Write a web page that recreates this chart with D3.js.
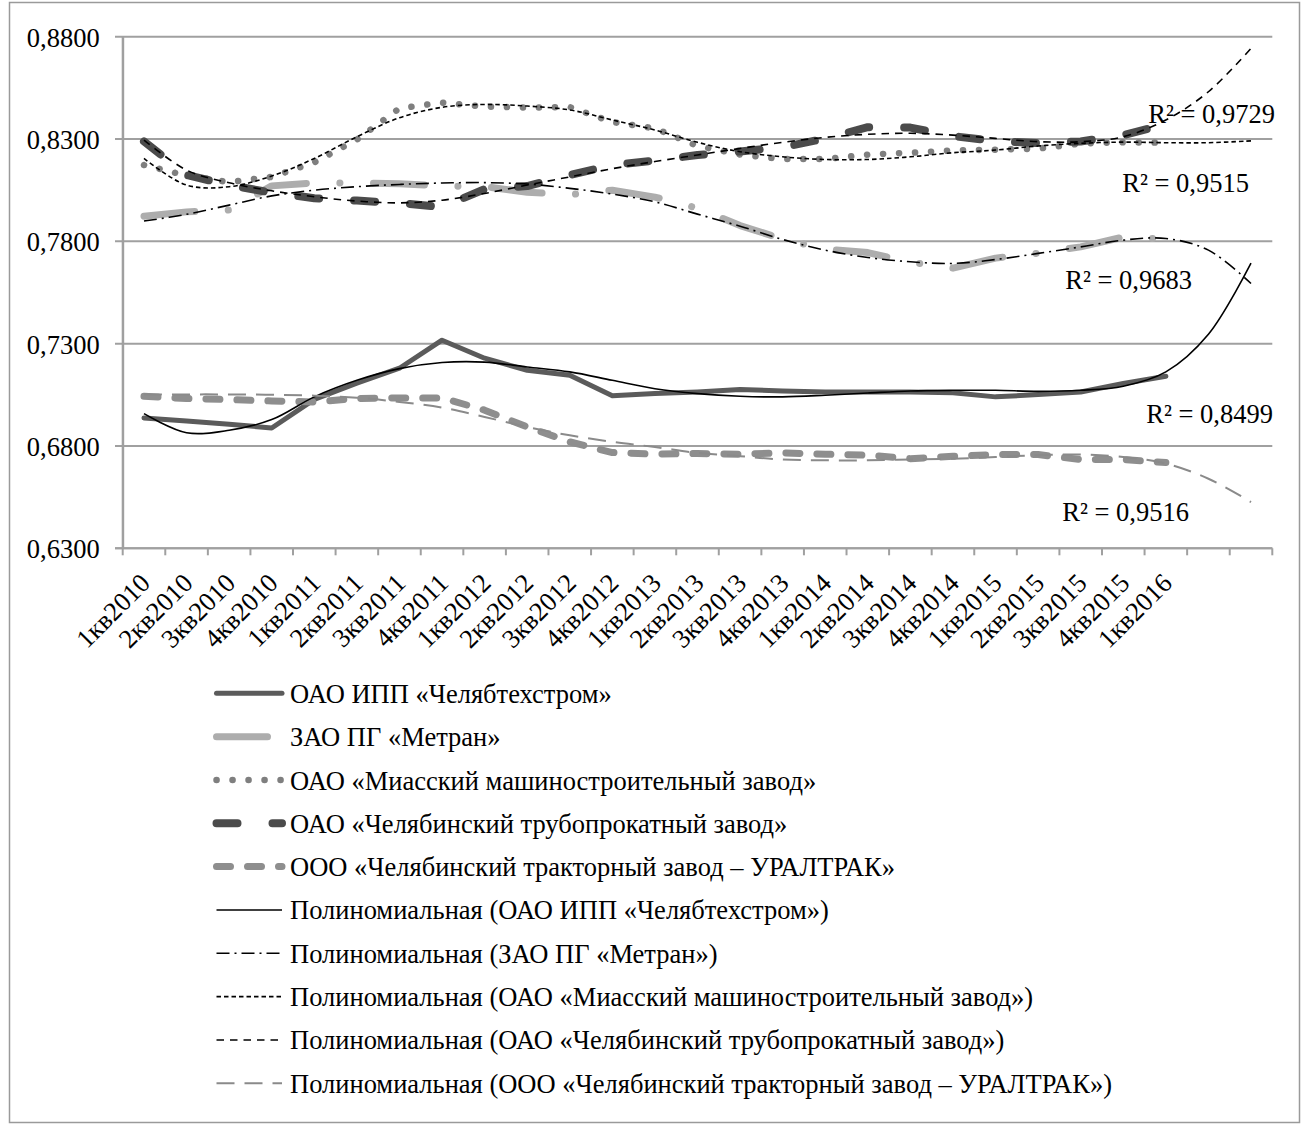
<!DOCTYPE html>
<html><head><meta charset="utf-8">
<script src="https://cdn.jsdelivr.net/npm/d3@7"></script>
<style>
html,body{margin:0;padding:0;background:#fff;}
svg{display:block;}
text{font-family:"Liberation Serif","Times New Roman",serif;fill:#000;}
</style></head>
<body>
<svg id="chart" width="1306" height="1126"></svg>
<script>
// ---------------- DATA ----------------
const categories = ["1кв2010","2кв2010","3кв2010","4кв2010","1кв2011","2кв2011","3кв2011","4кв2011",
  "1кв2012","2кв2012","3кв2012","4кв2012","1кв2013","2кв2013","3кв2013","4кв2013",
  "1кв2014","2кв2014","3кв2014","4кв2014","1кв2015","2кв2015","3кв2015","4кв2015","1кв2016"];
const forecastSlots = ["", ""]; // two forecast periods of the trend lines
const yTicks = [0.63, 0.68, 0.73, 0.78, 0.83, 0.88];

const ipp    = [0.6937,0.6922,0.6906,0.6888,0.7028,0.7107,0.7180,0.7317,0.7229,0.7170,0.7146,0.7045,0.7056,0.7064,0.7076,0.7069,0.7064,0.7064,0.7064,0.7060,0.7040,0.7051,0.7064,0.7105,0.7141];
const metran = [0.7923,0.7944,0.7953,0.8071,0.8086,0.8085,0.8082,0.8070,0.8068,0.8040,0.8028,0.8050,0.8016,0.7962,0.7877,0.7811,0.7762,0.7745,0.7698,0.7669,0.7718,0.7742,0.7773,0.7821,0.7810];
const miass  = [0.8173,0.8121,0.8089,0.8115,0.8186,0.8297,0.8450,0.8478,0.8458,0.8454,0.8456,0.8383,0.8352,0.8266,0.8224,0.8202,0.8202,0.8224,0.8233,0.8244,0.8248,0.8253,0.8278,0.8284,0.8282];
const chtpz  = [0.8288,0.8124,0.8075,0.8038,0.8011,0.7999,0.7987,0.7967,0.8055,0.8070,0.8124,0.8173,0.8195,0.8222,0.8239,0.8260,0.8302,0.8358,0.8356,0.8314,0.8290,0.8280,0.8288,0.8319,0.8373];
const ural   = [0.7043,0.7032,0.7027,0.7020,0.7015,0.7032,0.7035,0.7035,0.6975,0.6893,0.6820,0.6768,0.6760,0.6763,0.6760,0.6766,0.6760,0.6755,0.6738,0.6750,0.6758,0.6758,0.6734,0.6734,0.6719];

const ippTrend    = [0.6958,0.6865,0.6877,0.6929,0.7040,0.7121,0.7178,0.7208,0.7210,0.7186,0.7162,0.7121,0.7080,0.7056,0.7043,0.7040,0.7048,0.7059,0.7069,0.7072,0.7072,0.7067,0.7072,0.7092,0.7162,0.7346,0.7693];
const metranTrend = [0.7899,0.7932,0.7977,0.8022,0.8050,0.8067,0.8078,0.8085,0.8087,0.8080,0.8059,0.8031,0.7993,0.7933,0.7874,0.7809,0.7757,0.7721,0.7700,0.7692,0.7711,0.7741,0.7773,0.7806,0.7814,0.7757,0.7594];
const miassTrend  = [0.8205,0.8075,0.8067,0.8119,0.8205,0.8311,0.8404,0.8455,0.8469,0.8461,0.8442,0.8393,0.8344,0.8284,0.8238,0.8213,0.8200,0.8200,0.8213,0.8233,0.8246,0.8266,0.8279,0.8285,0.8282,0.8282,0.8291];
const chtpzTrend  = [0.8295,0.8148,0.8086,0.8047,0.8018,0.7997,0.7988,0.8001,0.8034,0.8075,0.8115,0.8155,0.8190,0.8222,0.8254,0.8284,0.8308,0.8323,0.8328,0.8319,0.8303,0.8287,0.8287,0.8311,0.8393,0.8531,0.8743];
const uralTrend   = [0.7051,0.7052,0.7052,0.7050,0.7046,0.7036,0.7015,0.6988,0.6942,0.6893,0.6852,0.6820,0.6795,0.6766,0.6750,0.6734,0.6730,0.6730,0.6734,0.6738,0.6746,0.6755,0.6758,0.6746,0.6714,0.6640,0.6526];

const seriesNames = ["ОАО ИПП «Челябтехстром»","ЗАО ПГ «Метран»","ОАО «Миасский машиностроительный завод»",
  "ОАО «Челябинский трубопрокатный завод»","ООО «Челябинский тракторный завод – УРАЛТРАК»"];
const r2Labels = ["R² = 0,9729","R² = 0,9515","R² = 0,9683","R² = 0,8499","R² = 0,9516"];

// ---------------- STYLES ----------------
const seriesStyles = [
  {color:"#5b5b5b", width:5,   dash:null,            cap:"round"},
  {color:"#adadad", width:7,   dash:"51 33.5 0.1 33.5", cap:"round"},
  {color:"#7f7f7f", width:6.5, dash:"0.1 15.9",      cap:"round"},
  {color:"#4b4b4b", width:8,   dash:"21 35",         cap:"round"},
  {color:"#8e8e8e", width:7,   dash:"14 17",         cap:"round"}
];
const trendStyles = [
  {color:"#000", width:1.6, dash:null},
  {color:"#000", width:1.6, dash:"13 5 2 5"},
  {color:"#000", width:1.6, dash:"4.5 3"},
  {color:"#000", width:1.6, dash:"7.5 6"},
  {color:"#8a8a8a", width:2, dash:"18 10"}
];
const r2Pos = [[1275,123],[1249,192],[1192,289],[1273,423],[1189,521]];

const svg = d3.select("#chart");
const FS = 26.5;

// outer border
svg.append("rect").attr("x",9.5).attr("y",2.5).attr("width",1290).attr("height",1120)
  .attr("fill","none").attr("stroke","#9a9a9a").attr("stroke-width",1.5);

const allCats = categories.concat(forecastSlots.map((d,i)=>"__f"+i));
const x = d3.scaleBand().domain(d3.range(allCats.length)).range([122.7, 1272.3]).padding(0);
const cx = i => x(i) + x.bandwidth()/2;
const y = d3.scaleLinear().domain([0.63, 0.88]).range([548.3, 36.7]);

// gridlines
svg.append("g").selectAll("line").data(yTicks).join("line")
  .attr("x1",115).attr("x2",1272.3).attr("y1",d=>y(d)).attr("y2",d=>y(d))
  .attr("stroke","#a0a0a0").attr("stroke-width",2);

// y axis
const yAxis = svg.append("g").attr("transform","translate(122.7,0)")
  .call(d3.axisLeft(y).tickValues(yTicks).tickSize(0).tickPadding(23)
    .tickFormat(d => d3.format(".4f")(d).replace(".", ",")));
yAxis.select(".domain").attr("stroke","#a0a0a0").attr("stroke-width",2);
yAxis.selectAll("text").attr("font-size",FS).attr("font-family","Liberation Serif").attr("dy","0.36em");

// x axis line & ticks
svg.append("line").attr("x1",115).attr("x2",1272.3).attr("y1",y(0.63)).attr("y2",y(0.63))
  .attr("stroke","#a0a0a0").attr("stroke-width",2);
const bounds = d3.range(allCats.length).map(i=>x(i)).concat([x.range()[1]]);
svg.append("g").selectAll("line").data(bounds).join("line")
  .attr("x1",d=>d).attr("x2",d=>d).attr("y1",y(0.63)).attr("y2",y(0.63)+7)
  .attr("stroke","#a0a0a0").attr("stroke-width",2);
// y axis line
svg.append("line").attr("x1",122.7).attr("x2",122.7).attr("y1",y(0.88)).attr("y2",y(0.63))
  .attr("stroke","#a0a0a0").attr("stroke-width",2);

// x labels
svg.append("g").selectAll("text").data(categories).join("text")
  .attr("transform",(d,i)=>`translate(${cx(i)+1},${578}) rotate(-45)`)
  .attr("text-anchor","end").attr("dy","0.36em").attr("font-size",FS)
  .text(d=>d);

// series
const line = d3.line().x((d,i)=>cx(i)).y(d=>y(d));
const smooth = d3.line().x((d,i)=>cx(i)).y(d=>y(d)).curve(d3.curveCatmullRom.alpha(0.5));
const seriesData = [ipp, metran, miass, chtpz, ural];
const trendData = [ippTrend, metranTrend, miassTrend, chtpzTrend, uralTrend];

seriesData.forEach((s,k)=>{
  const st = seriesStyles[k];
  svg.append("path").attr("d",line(s)).attr("fill","none").attr("stroke",st.color)
    .attr("stroke-width",st.width).attr("stroke-linecap",st.cap).attr("stroke-linejoin","round")
    .attr("stroke-dasharray",st.dash);
});
trendData.forEach((s,k)=>{
  const st = trendStyles[k];
  svg.append("path").attr("d",smooth(s)).attr("fill","none").attr("stroke",st.color)
    .attr("stroke-width",st.width).attr("stroke-dasharray",st.dash);
});

// R² labels
svg.append("g").selectAll("text").data(r2Labels).join("text")
  .attr("x",(d,i)=>r2Pos[i][0]).attr("y",(d,i)=>r2Pos[i][1])
  .attr("text-anchor","end").attr("font-size",FS).text(d=>d);

// legend
const legendItems = [];
seriesNames.forEach((n,k)=>legendItems.push({name:n, st:seriesStyles[k]}));
seriesNames.forEach((n,k)=>legendItems.push({name:"Полиномиальная ("+n+")", st:trendStyles[k]}));
const lg = svg.append("g");
legendItems.forEach((it,i)=>{
  const ly = 693.3 + i*43.33;
  lg.append("line").attr("x1",216.5).attr("x2",282).attr("y1",ly).attr("y2",ly)
    .attr("stroke",it.st.color).attr("stroke-width",it.st.width)
    .attr("stroke-linecap", it.st.cap || "butt").attr("stroke-dasharray",it.st.dash);
  lg.append("text").attr("x",290).attr("y",ly).attr("dy","0.36em").attr("font-size",FS).text(it.name);
});
</script>
</body></html>
